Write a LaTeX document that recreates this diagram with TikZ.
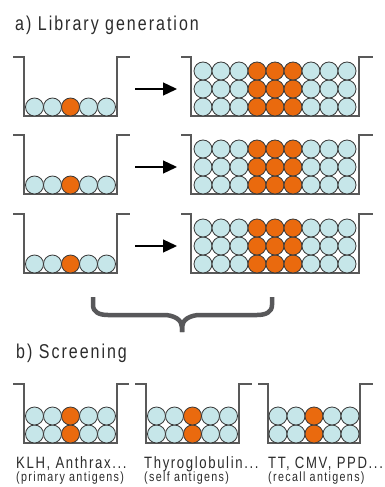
\documentclass[tikz,border=0pt]{standalone}
\usepackage{fontspec}
\setmainfont{Liberation Sans}[FakeStretch=0.8, LetterSpace=10]
\usepackage{tikz}
\usetikzlibrary{arrows.meta}

\definecolor{wellgrey}{HTML}{595959}
\definecolor{cellline}{HTML}{3A3A3A}
\definecolor{cellblue}{HTML}{C6E6E9}
\definecolor{cloneorange}{HTML}{EA6A0E}
\definecolor{bracegrey}{HTML}{58585A}
\definecolor{textgrey}{HTML}{2B2B2B}

\begin{document}
\begin{tikzpicture}[%
    x=1pt, y=-1pt,
    well/.style={%
        draw=wellgrey,
        line width=1.4pt
    },
    cell/.style={%
        draw=cellline,
        circle,
        inner sep=0pt,
        minimum size=18pt,
        line width=0.8pt,
        fill=cellblue
    },
    clone/.style={%
        cell,
        fill=cloneorange
    },
    heading/.style={%
        anchor=base west,
        inner sep=0pt,
        text=textgrey,
        font=\fontsize{20}{22}\selectfont
    },
    antigen/.style={%
        anchor=base west,
        inner sep=0pt,
        text=textgrey,
        font=\fontsize{16.4}{18}\selectfont
    },
    antigenType/.style={%
        anchor=base west,
        inner sep=0pt,
        text=textgrey,
        font=\fontsize{13.4}{15}\selectfont
    },
    expand/.style={%
        -{Triangle[length=14pt, width=13pt]},
        line width=1.3pt,
        draw=black
    },
    brace/.style={%
        draw=bracegrey,
        line width=4.5pt
    }
]
\useasboundingbox (0,0) rectangle (384,487);

% Headings
    \node[heading] (headA) at (15,31) {a) Library generation};
    \node[heading] (headB) at (16,358) {b) Screening};

% Library generation: small well -> arrow -> big well, three times
\foreach \r/\top/\bot in {1/57/116, 2/135/194, 3/214/273} {
    % small well
    \draw[well] (13,\top) -- (24,\top) -- (24,\bot) -- (117,\bot) -- (117,\top) -- (130,\top);
    \foreach \k in {0,...,4} {
        \ifnum\k=2
            \node[clone] (seed\r\k) at ({34.5+18*\k},{\bot-9}) {};
        \else
            \node[cell] (seed\r\k) at ({34.5+18*\k},{\bot-9}) {};
        \fi
    }
    % big well
    \draw[well] (181,\top) -- (191,\top) -- (191,\bot) -- (359,\bot) -- (359,\top) -- (373,\top);
    \foreach \c in {0,...,8} {
        \foreach \w in {0,1,2} {
            \ifnum\c>2 \ifnum\c<6
                \node[clone] (lib\r\c\w) at ({203+18*\c},{\bot-9-18*\w}) {};
            \else
                \node[cell] (lib\r\c\w) at ({203+18*\c},{\bot-9-18*\w}) {};
            \fi \else
                \node[cell] (lib\r\c\w) at ({203+18*\c},{\bot-9-18*\w}) {};
            \fi
        }
    }
    % arrow
    \coordinate (grow\r) at (135,{\bot-27});
    \coordinate (grown\r) at (177,{\bot-27});
    \draw[expand] (grow\r) -- (grown\r);
}

% Brace
\draw[brace] (93,297) -- (93,305) .. controls (93,312) and (99,315) .. (108,315)
    -- (164,315) .. controls (174,315) and (182,320) .. (182,327) -- (182,332);
\draw[brace] (272,297) -- (272,305) .. controls (272,312) and (266,315) .. (257,315)
    -- (200,315) .. controls (190,315) and (182,320) .. (182,327) -- (182,332);

% Screening wells
\foreach \s/\rimL/\wallL/\wallR/\rimR in {1/13/24/117/129, 2/135/146/239/252, 3/258/268/360/373} {
    \draw[well] (\rimL,384) -- (\wallL,384) -- (\wallL,443) -- (\wallR,443) -- (\wallR,384) -- (\rimR,384);
    \foreach \k in {0,...,4} {
        \foreach \w in {0,1} {
            \ifnum\k=2
                \node[clone] (screen\s\k\w) at ({(\wallL+\wallR)/2+18*(\k-2)},{434-18*\w}) {};
            \else
                \node[cell] (screen\s\k\w) at ({(\wallL+\wallR)/2+18*(\k-2)},{434-18*\w}) {};
            \fi
        }
    }
}

% Antigens
    \node[antigen] (primary) at (16,468) {KLH, Anthrax...};
    \node[antigenType] (primaryType) at (16,481) {(primary antigens)};
    \node[antigen] (self) at (144,468) {Thyroglobulin...};
    \node[antigenType] (selfType) at (144,481) {(self antigens)};
    \node[antigen] (recall) at (268,468) {TT, CMV, PPD...};
    \node[antigenType] (recallType) at (268,481) {(recall antigens)};

\end{tikzpicture}
\end{document}
